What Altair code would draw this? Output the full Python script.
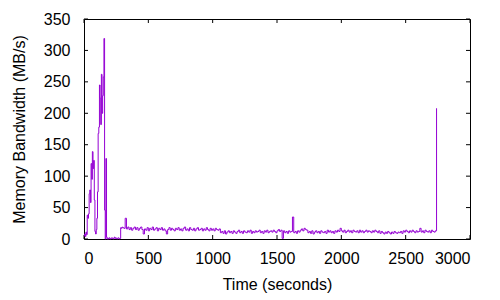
import altair as alt
import pandas as pd

# Memory bandwidth samples (MB/s)
early_values = [5, 8, 4, 11, 7, 38, 33, 40, 72, 78, 58, 120, 95, 139, 112, 125, 62, 12, 8, 15,
                33, 75, 168, 178, 245, 224, 182, 262, 200, 228, 258, 319, 46, 0, 128, 3, 0, 1, 0, 2,
                1, 0, 1, 2, 1, 0, 1, 3, 1, 2, 1, 0, 1, 2, 1, 0, 1, 18, 17, 19]
early_step = 5
flat_start = 300
flat_step = 10
flat_values = [
    18, 17, 33, 16, 19, 15, 18, 14, 17, 19,
    15, 18, 14, 17, 19, 15, 8, 16, 14, 18,
    13, 17, 15, 19, 14, 16, 18, 13, 17, 15,
    18, 14, 16, 13, 8, 15, 18, 14, 17, 15,
    13, 17, 15, 18, 14, 16, 13, 17, 19, 14,
    16, 13, 18, 15, 14, 17, 13, 16, 18, 14,
    15, 17, 13, 16, 14, 18, 15, 13, 17, 14,
    16, 13, 17, 15, 14, 16,
    10, 12, 9, 13, 8, 11, 13, 10, 12, 9,
    13, 11, 9, 12, 14, 10, 12, 9, 13, 11,
    10, 13, 11, 14, 9, 12, 10, 13, 11, 12,
    14, 10, 12, 9, 13, 11, 14, 10, 12, 13,
    11, 14, 12, 10, 13, 15, 12, 14,
    1, 13, 10, 12, 9, 13, 11, 12, 35, 10,
    12, 9, 13, 11, 14, 16, 13, 17, 15, 14,
    10, 12, 9, 13, 8, 11, 13, 10, 12, 9,
    13, 11, 10, 12, 9, 14, 11, 13, 10, 12,
    9, 13, 11, 14, 12, 17, 13, 11, 14, 10,
    12, 14, 11, 13, 10, 14, 12, 11, 13, 10,
    14, 11, 13, 10, 12, 14, 11, 13, 12, 10,
    13, 11, 14, 12, 10, 13, 9, 12, 10, 8,
    11, 9, 12, 10, 8, 11, 9, 12, 10, 9,
    11, 10, 12, 9, 13, 11, 14, 12, 10, 13,
    11, 14, 12, 10, 13, 11, 12, 17, 11, 13,
    10, 14, 12, 11, 13, 10, 14, 12, 11, 13,
]
spike_time = [2740]
spike_value = [208]

x_ticks = [0, 500, 1000, 1500, 2000, 2500, 3000]
y_ticks = [0, 50, 100, 150, 200, 250, 300, 350]

times = ([i * early_step for i in range(len(early_values))]
         + [flat_start + i * flat_step for i in range(len(flat_values))]
         + spike_time)
values = early_values + flat_values + spike_value
df = pd.DataFrame({"t": times, "v": values})

W, H = 386, 220
xs = alt.Scale(domain=[0, 3000], nice=False, zero=False)
ys = alt.Scale(domain=[0, 350], nice=False)

FONT = "Liberation Sans"

x_axis = alt.Axis(title="Time (seconds)", values=x_ticks, tickSize=0, domain=False,
                  grid=False, labelPadding=11, titlePadding=10, format="d",
                  labelOverlap=False)
y_axis = alt.Axis(title="Memory Bandwidth (MB/s)", values=y_ticks, tickSize=0,
                  domain=False, grid=False, labelPadding=14, titlePadding=16, format="d",
                  labelOverlap=False)

X = alt.X("t:Q", scale=xs, axis=x_axis)
Y = alt.Y("v:Q", scale=ys, axis=y_axis)

line = alt.Chart(df).mark_line(color="#9400D3", strokeWidth=1, interpolate="step-after").encode(
    x=X, y=Y)

xt = pd.DataFrame({"t": x_ticks})
yt = pd.DataFrame({"v": y_ticks})
TL = 4
xb = alt.Chart(xt).mark_rule(color="black", strokeWidth=1).encode(
    x=X, y=alt.value(H), y2=alt.value(H - TL))
xtop = alt.Chart(xt).mark_rule(color="black", strokeWidth=1).encode(
    x=X, y=alt.value(0), y2=alt.value(TL))
yl = alt.Chart(yt).mark_rule(color="black", strokeWidth=1).encode(
    y=Y, x=alt.value(0), x2=alt.value(TL))
yr = alt.Chart(yt).mark_rule(color="black", strokeWidth=1).encode(
    y=Y, x=alt.value(W - TL), x2=alt.value(W))

chart = alt.layer(xb, xtop, yl, yr, line).properties(
    width=W, height=H,
    autosize=alt.AutoSizeParams(type="none"),
    padding={"left": 76, "top": 11, "right": 20, "bottom": 60},
    background="white",
).configure_view(
    stroke="black", strokeWidth=1
).configure_axis(
    labelFont=FONT, titleFont=FONT, labelFontSize=16, titleFontSize=16,
    labelColor="black", titleColor="black", titleFontWeight="normal",
)

chart.save("out.html", embed_options={"renderer": "svg", "actions": False})
